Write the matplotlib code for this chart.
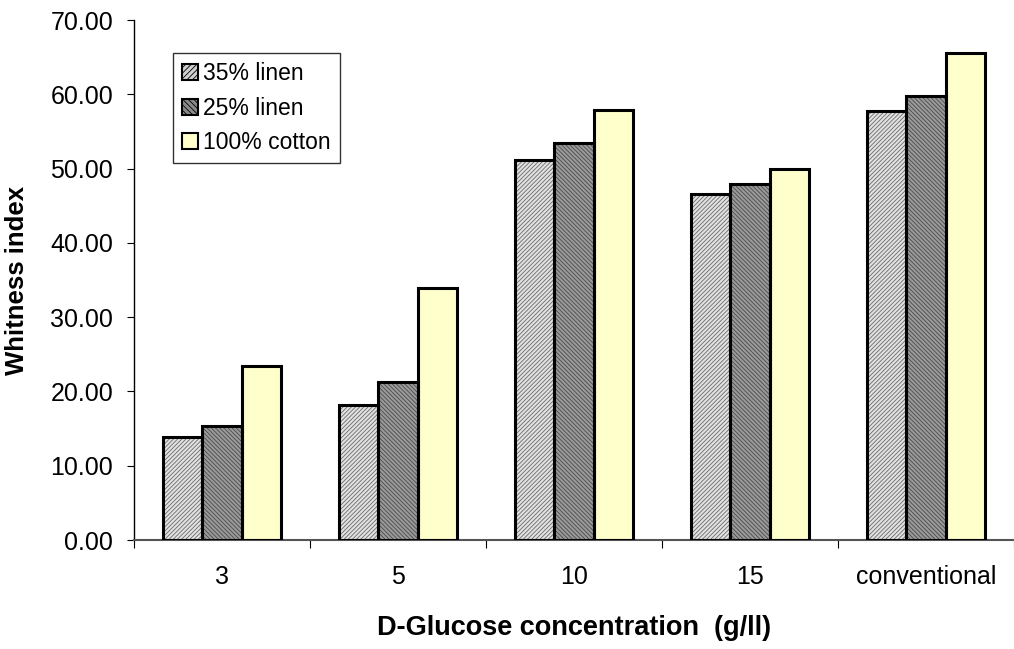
import numpy as np
import matplotlib
matplotlib.use('Agg')
import matplotlib.pyplot as plt
from matplotlib.patches import Patch

plt.rcParams['font.family'] = ['Liberation Sans', 'DejaVu Sans']
plt.rcParams['hatch.linewidth'] = 0.6

# Whitness index per D-Glucose concentration
categories = ['3', '5', '10', '15', 'conventional']
linen_35 = [13.9, 18.2, 51.2, 46.6, 57.8]
linen_25 = [15.4, 21.3, 53.4, 47.9, 59.8]
cotton_100 = [23.4, 33.9, 57.9, 50.0, 65.6]
series_names = ['35% linen', '25% linen', '100% cotton']

fig = plt.figure(figsize=(10.14, 6.49), dpi=100)
ax = fig.add_axes([134 / 1014, 109 / 649, 880 / 1014, 520 / 649])

x = np.arange(len(categories))
w = 0.225

styles = [
    dict(fc='#e2e2e2', hatch='////////', hc='#6a6a6a'),
    dict(fc='#9a9a9a', hatch='\\\\\\\\\\\\\\\\', hc='#4a4a4a'),
    dict(fc='#ffffcc', hatch=None, hc=None),
]

for i, (vals, st) in enumerate(zip([linen_35, linen_25, cotton_100], styles)):
    pos = x + (i - 1) * w
    # fill + hatch first, then a plain black outline on top
    ax.bar(pos, vals, w, color=st['fc'], hatch=st['hatch'],
           edgecolor=st['hc'] if st['hc'] else st['fc'], linewidth=0, zorder=2)
    ax.bar(pos, vals, w, facecolor='none', edgecolor='black', linewidth=2.2, zorder=3)

ax.set_xlim(-0.5, -0.5 + 880 / 177.5)
ax.set_ylim(0, 70)
ax.set_yticks(np.arange(0, 71, 10))
ax.set_yticklabels(['%.2f' % v for v in np.arange(0, 71, 10)], fontsize=18)

# category labels centred, tick marks between groups
ax.set_xticks(x)
ax.set_xticklabels(categories, fontsize=18)
ax.tick_params(axis='x', length=0, pad=18)
ax.set_xticks(np.arange(-0.5, len(categories) - 0.4, 1), minor=True)
ax.tick_params(axis='x', which='minor', length=6, color='black', width=0.8)
ax.tick_params(axis='y', length=5, width=0.8, pad=10)

ax.spines['top'].set_visible(False)
ax.spines['right'].set_visible(False)
ax.spines['left'].set_linewidth(1)
ax.spines['bottom'].set_color('#555555')
ax.spines['bottom'].set_linewidth(1.5)

ax.set_xlabel('D-Glucose concentration  (g/ll)', fontsize=19.5, fontweight='bold', labelpad=19)
ax.set_ylabel('Whitness index', fontsize=18.5, fontweight='bold', labelpad=15)

handles = [
    Patch(facecolor='#d0d0d0', edgecolor='black', hatch='//////', linewidth=1.5),
    Patch(facecolor='#8a8a8a', edgecolor='black', hatch='\\\\\\\\\\\\', linewidth=1.5),
    Patch(facecolor='#ffffcc', edgecolor='black', linewidth=1.5),
]
leg = ax.legend(handles, series_names, loc='upper left',
                bbox_to_anchor=(39 / 880, 1 - 33 / 520),
                fontsize=16.5, frameon=True, fancybox=False, edgecolor='black',
                handlelength=0.7, handleheight=0.7, handletextpad=0.2,
                labelspacing=0.5, borderpad=0.4, borderaxespad=0)
leg.get_frame().set_linewidth(1)

fig.savefig('out.png', dpi=100)
